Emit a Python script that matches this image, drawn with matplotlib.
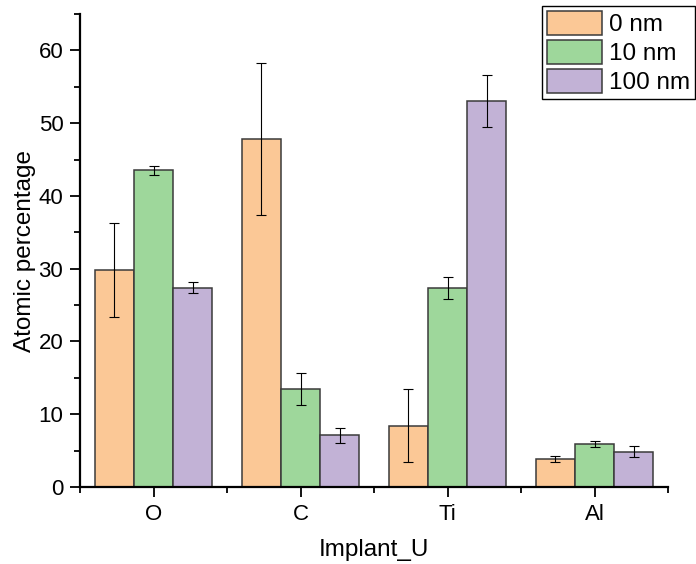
import matplotlib
matplotlib.use("Agg")
import matplotlib.pyplot as plt
import numpy as np

plt.rcParams["font.family"] = ["Liberation Sans", "DejaVu Sans"]

# data
elements = ["O", "C", "Ti", "Al"]
series_names = ["0 nm", "10 nm", "100 nm"]
vals_0nm = [29.8, 47.8, 8.4, 3.8]
err_0nm = [6.5, 10.4, 5.0, 0.4]
vals_10nm = [43.5, 13.4, 27.3, 5.9]
err_10nm = [0.65, 2.2, 1.5, 0.4]
vals_100nm = [27.4, 7.1, 53.0, 4.85]
err_100nm = [0.8, 1.0, 3.55, 0.73]

colors = ["#FBC896", "#9ED79B", "#C2B2D6"]

fig = plt.figure(figsize=(6.96, 5.64), dpi=100)
ax = fig.add_axes([80 / 696, 77 / 564, 588 / 696, 473 / 564])

x = np.arange(1, len(elements) + 1)
w = 0.8 / 3
handles = []
for i, (v, e) in enumerate([(vals_0nm, err_0nm), (vals_10nm, err_10nm), (vals_100nm, err_100nm)]):
    pos = x + (i - 1) * w
    b = ax.bar(pos, v, width=w, color=colors[i], edgecolor="#3a3a3a", linewidth=1.1,
               label=series_names[i], zorder=2)
    ax.errorbar(pos, v, yerr=e, fmt="none", ecolor="black", elinewidth=0.8,
                capsize=3.3, capthick=0.8, zorder=3)
    handles.append(b)

ax.set_xlim(0.5, 4.5)
ax.set_ylim(0, 65)
ax.set_xticks(x)
ax.set_xticklabels(elements)
ax.set_xticks([0.5, 1.5, 2.5, 3.5, 4.5], minor=True)
ax.set_yticks([0, 10, 20, 30, 40, 50, 60])
ax.set_yticks([5, 15, 25, 35, 45, 55, 65], minor=True)

ax.tick_params(axis="both", which="major", direction="out", length=7, width=1.3, labelsize=16)
ax.tick_params(axis="both", which="minor", direction="out", length=4, width=1.3)
ax.tick_params(axis="x", which="major", pad=5)
ax.tick_params(axis="y", which="major", pad=5)

for s in ["top", "right"]:
    ax.spines[s].set_visible(False)
for s in ["left", "bottom"]:
    ax.spines[s].set_linewidth(1.6)

ax.set_xlabel("Implant_U", fontsize=17.5, labelpad=10)
ax.set_ylabel("Atomic percentage", fontsize=17.5, labelpad=2)

leg = fig.legend(handles=handles, labels=series_names, loc="upper right",
                 bbox_to_anchor=(695 / 696, 1 - 6 / 564), bbox_transform=fig.transFigure,
                 fontsize=17.5, frameon=True, fancybox=False, framealpha=1,
                 edgecolor="black", handlelength=2.25, handleheight=1.15,
                 handletextpad=0.3, labelspacing=0.15, borderpad=0.2, borderaxespad=0)
leg.get_frame().set_linewidth(1.0)

fig.savefig("out.png", dpi=100)
